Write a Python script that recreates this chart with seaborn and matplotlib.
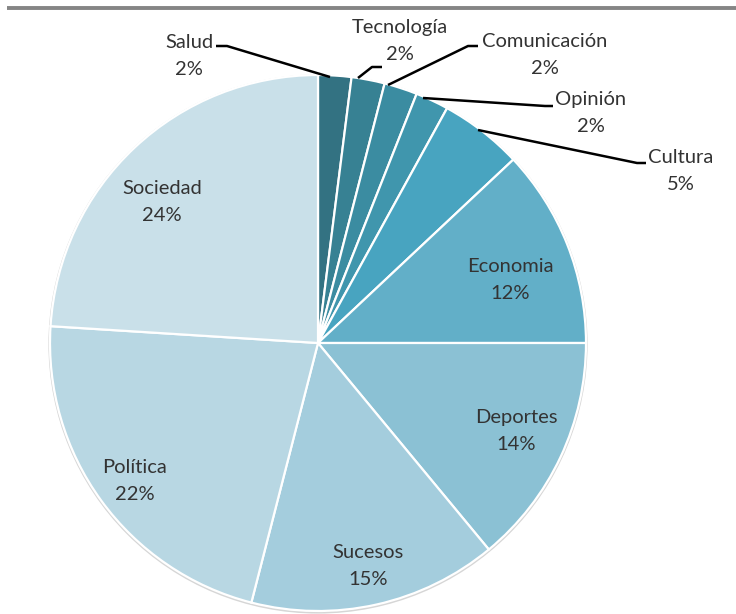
import matplotlib
matplotlib.use("Agg")
import matplotlib.pyplot as plt
import seaborn as sns
from matplotlib.patches import Circle

# Topic shares (percent), clockwise from 12 o'clock
categories = ["Salud", "Tecnología", "Comunicación", "Opinión", "Cultura",
              "Economia", "Deportes", "Sucesos", "Política", "Sociedad"]
shares = [2, 2, 2, 2, 5, 12, 14, 15, 22, 24]
slice_hex = ["#337282", "#378193", "#3b8ca1", "#4096ad", "#48a4c0",
             "#62afc8", "#8bc1d4", "#a4cddd", "#b8d7e3", "#c9e0e9"]

W, H = 736, 614
CX, CY, R = 318, 343, 268

sns.set_theme(style="white")
plt.rcParams["font.family"] = ["Lato", "DejaVu Sans"]
palette = sns.color_palette(slice_hex)


def Y(y):
    """Convert a top-down pixel row into the axes' bottom-up coordinate."""
    return H - y


fig = plt.figure(figsize=(W / 100, H / 100), dpi=100)
fig.patch.set_facecolor("white")
ax = fig.add_axes([0, 0, 1, 1])

# faint rim behind the pie
ax.add_patch(Circle((CX, Y(CY) - 1), R + 1.6, facecolor="#d6d6d6",
                    edgecolor="none", zorder=0))

wedges, _ = ax.pie(shares, colors=palette, startangle=90, counterclock=False,
                   center=(CX, Y(CY)), radius=R, frame=True,
                   wedgeprops=dict(edgecolor="white", linewidth=1.6))

ax.set_xlim(0, W)
ax.set_ylim(0, H)
ax.set_aspect("equal")
ax.axis("off")

# rule across the top
ax.plot([7, W], [Y(8), Y(8)], color="#858585", lw=2.8, solid_capstyle="butt")

text_kw = dict(ha="center", va="center", fontsize=14.5, color="#333333",
               linespacing=1.65)

# labels placed inside their wedges
inside_pos = {
    "Economia": (510, 280),
    "Deportes": (516, 431),
    "Sucesos": (368, 566),
    "Política": (135, 481),
    "Sociedad": (162, 202),
}
# labels outside the pie, with leader lines
outside_pos = {
    "Salud": (189, 56),
    "Tecnología": (400, 41),
    "Comunicación": (545, 55),
    "Opinión": (591, 113),
    "Cultura": (681, 171),
}
leaders = {
    "Salud": [(216, 46), (227, 46), (330, 77)],
    "Tecnología": [(382, 67), (372, 67), (358, 78)],
    "Comunicación": [(478, 46), (468, 46), (388, 85)],
    "Opinión": [(553, 106), (545, 106), (423, 98)],
    "Cultura": [(646, 163), (637, 163), (478, 130)],
}

for name, val in zip(categories, shares):
    label = f"{name}\n{val}%"
    if name in inside_pos:
        x, y = inside_pos[name]
        ax.text(x, Y(y), label, **text_kw)
    else:
        x, y = outside_pos[name]
        ax.text(x, Y(y), label, **text_kw)
        pts = leaders[name]
        ax.plot([p[0] for p in pts], [Y(p[1]) for p in pts],
                color="black", lw=1.8, solid_capstyle="butt", zorder=5)

fig.savefig("out.png", dpi=100, facecolor="white")
